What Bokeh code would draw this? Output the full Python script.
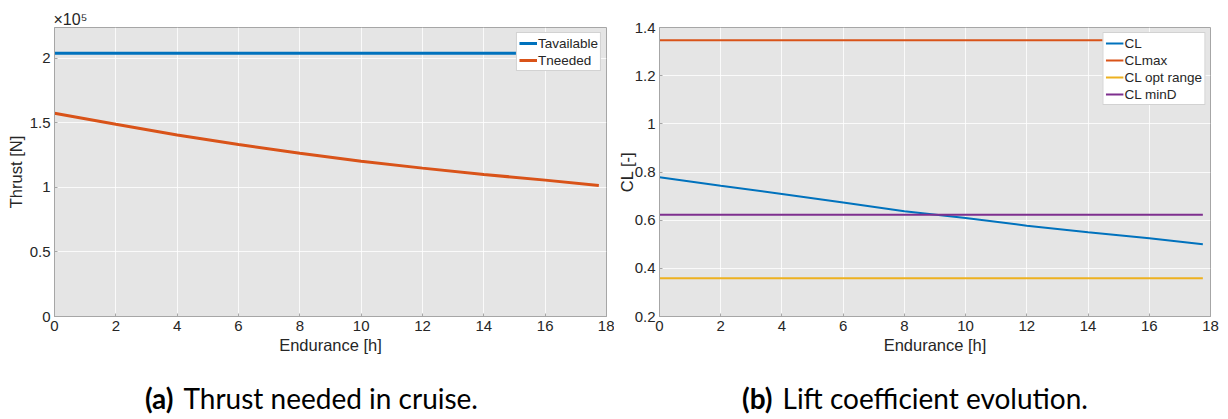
from bokeh.plotting import figure
from bokeh.layouts import row, column
from bokeh.models import FixedTicker, CustomJSTickFormatter, Range1d, Legend, LegendItem
from bokeh.embed import file_html
from bokeh.resources import INLINE
from bokeh.core.properties import value

# ---- data ----
endurance = [0, 2, 4, 6, 8, 10, 12, 14, 16, 17.75]
t_available = [204000] * 10
t_needed = [157600, 149000, 140600, 133300, 126600, 120400, 115000, 110100, 105700, 101600]

cl = [0.778, 0.743, 0.709, 0.673, 0.637, 0.609, 0.577, 0.550, 0.525, 0.500]
cl_max = [1.347] * 10
cl_opt_range = [0.359] * 10
cl_min_d = [0.623] * 10

x_ticks = [0, 2, 4, 6, 8, 10, 12, 14, 16, 18]
thrust_ticks = [0, 50000, 100000, 150000, 200000]
cl_ticks = [0.2, 0.4, 0.6, 0.8, 1.0, 1.2, 1.4]

captions_bold = ["(a)", "(b)"]
captions_text = ["Thrust needed in cruise.", "Lift coefficient evolution."]

BLUE, ORANGE, YELLOW, PURPLE = "#0072BD", "#D95319", "#EDB120", "#7E2F8E"
FONT = "Liberation Sans"


def style(p):
    p.background_fill_color = "#e5e5e5"
    p.border_fill_color = "white"
    p.outline_line_color = "#a6a6a6"
    p.outline_line_width = 1
    for ax in (p.xaxis, p.yaxis):
        ax.axis_line_color = "#a6a6a6"
        ax.major_tick_line_color = "#a6a6a6"
        ax.major_tick_in = 3
        ax.major_tick_out = 0
        ax.minor_tick_line_color = None
        ax.major_label_text_font = FONT
        ax.major_label_text_font_size = "15px"
        ax.major_label_text_color = "#262626"
        ax.axis_label_text_font = FONT
        ax.axis_label_text_font_size = "16.5px"
        ax.axis_label_text_font_style = "normal"
        ax.axis_label_text_color = "#262626"
        ax.major_label_standoff = 4
        ax.axis_label_standoff = 2
    p.grid.grid_line_color = "white"
    p.grid.grid_line_alpha = 0.8
    p.grid.grid_line_width = 1
    p.xaxis.ticker = FixedTicker(ticks=x_ticks)
    p.xaxis.axis_label = "Endurance [h]"
    p.x_range = Range1d(0, 18)


# ---- left figure ----
p1 = figure(width=614, height=360, output_backend="svg", toolbar_location=None,
            min_border_left=54, min_border_right=8, min_border_top=27, min_border_bottom=44)
style(p1)
p1.y_range = Range1d(0, 224000)
p1.yaxis.ticker = FixedTicker(ticks=thrust_ticks)
p1.yaxis.formatter = CustomJSTickFormatter(code="return (tick/1e5).toString();")
p1.yaxis.axis_label = "Thrust [N]"
r1 = p1.line(endurance, t_available, line_color=BLUE, line_width=3)
r2 = p1.line(endurance, t_needed, line_color=ORANGE, line_width=3)
p1.title.text = "×10⁵"
p1.title.align = "left"
p1.title.text_font = FONT
p1.title.text_font_size = "16px"
p1.title.text_font_style = "normal"
p1.title.text_color = "#262626"
p1.title.offset = -1
p1.title.standoff = 0
leg1 = Legend(items=[LegendItem(label="Tavailable", renderers=[r1]),
                     LegendItem(label="Tneeded", renderers=[r2])],
              location="top_right")
p1.add_layout(leg1)

# ---- right figure ----
p2 = figure(width=614, height=360, output_backend="svg", toolbar_location=None,
            min_border_left=44, min_border_right=18, min_border_top=27, min_border_bottom=44)
style(p2)
p2.y_range = Range1d(0.2, 1.4)
p2.yaxis.ticker = FixedTicker(ticks=cl_ticks)
p2.yaxis.formatter = CustomJSTickFormatter(code="return parseFloat(tick.toFixed(1)).toString();")
p2.yaxis.axis_label = "CL [-]"
p2.yaxis.axis_label_standoff = -4
p2.yaxis.major_label_standoff = 4
s1 = p2.line(endurance, cl, line_color=BLUE, line_width=2)
s2 = p2.line(endurance, cl_max, line_color=ORANGE, line_width=2)
s3 = p2.line(endurance, cl_opt_range, line_color=YELLOW, line_width=2)
s4 = p2.line(endurance, cl_min_d, line_color=PURPLE, line_width=2)
leg2 = Legend(items=[LegendItem(label="CL", renderers=[s1]),
                     LegendItem(label="CLmax", renderers=[s2]),
                     LegendItem(label="CL opt range", renderers=[s3]),
                     LegendItem(label="CL minD", renderers=[s4])],
              location="top_right")
p2.add_layout(leg2)

for lg in (leg1, leg2):
    lg.label_text_font = FONT
    lg.label_text_font_size = "13.5px"
    lg.label_text_color = "#262626"
    lg.label_height = 16
    lg.label_standoff = 1
    lg.glyph_width = 18
    lg.glyph_height = 16
    lg.spacing = 1
    lg.padding = 2
    lg.margin = 5
    lg.border_line_color = "#a6a6a6"
    lg.background_fill_color = "white"
    lg.background_fill_alpha = 1.0

# ---- captions ----
pc = figure(width=1228, height=59, output_backend="svg", toolbar_location=None,
            x_range=Range1d(0, 1228), y_range=Range1d(0, 59),
            min_border=0)
pc.axis.visible = False
pc.grid.visible = False
pc.outline_line_color = None
pc.background_fill_color = "white"
cap_x = [173, 772]
cap_y = [22, 22]
pc.text(x=cap_x, y=cap_y, text=captions_bold, text_font=value("Lato"), text_font_size="28px",
        text_font_style="bold", text_align="right", text_baseline="middle", text_color="black")
pc.text(x=[v + 10 for v in cap_x], y=cap_y, text=captions_text, text_font=value("Lato"),
        text_font_size="28px", text_align="left", text_baseline="middle", text_color="black")

layout = column(row(p1, p2), pc)
open("out.html", "w").write(file_html(layout, INLINE))
